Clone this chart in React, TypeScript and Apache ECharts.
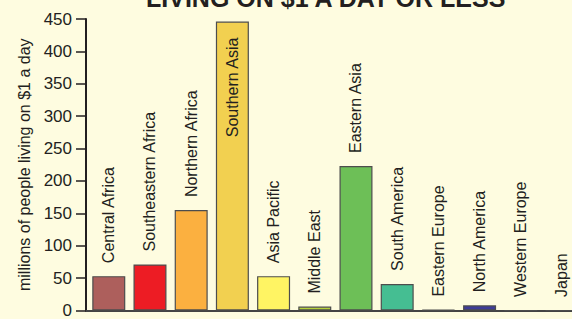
import React, { useEffect, useRef } from "react";
import * as echarts from "echarts";

const categories = [
  "Central Africa",
  "Southeastern Africa",
  "Northern Africa",
  "Southern Asia",
  "Asia Pacific",
  "Middle East",
  "Eastern Asia",
  "South America",
  "Eastern Europe",
  "North America",
  "Western Europe",
  "Japan",
];
const values = [53, 71, 155, 446, 53, 6, 223, 41, 1, 8, 0, 0];
const colors = [
  "#AD5F5C",
  "#ED1C24",
  "#FBB040",
  "#F2D050",
  "#FFF463",
  "#B6D13A",
  "#6DBF57",
  "#45BE92",
  "#3A4A8A",
  "#3E3C98",
  "#6A4A9A",
  "#8A4A9A",
];
const insideLabel = ["Southern Asia"];

const FONT = "'Liberation Sans Narrow', 'Liberation Sans', Arial, sans-serif";

export default function App() {
  const ref = useRef<HTMLDivElement>(null);
  useEffect(() => {
    if (!ref.current) return;
    const chart = echarts.init(ref.current, undefined, { renderer: "svg" });
    chart.setOption({
      animation: false,
      backgroundColor: "#FEFCE0",
      graphic: [
        {
          type: "text",
          left: 146,
          top: -15,
          style: {
            text: "LIVING ON $1 A DAY OR LESS",
            font: "bold 25px 'Liberation Sans', Arial, sans-serif",
            fill: "#231F20",
          },
        },
      ],
      grid: { left: 86, top: 19, right: 0, height: 297 },
      xAxis: {
        type: "value",
        min: -0.553,
        max: 11.243,
        axisLine: { show: true, onZero: false, lineStyle: { color: "#444", width: 2 } },
        axisTick: { show: false },
        axisLabel: { show: false },
        splitLine: { show: false },
      },
      yAxis: {
        type: "value",
        min: 0,
        max: 450,
        interval: 50,
        name: "millions of people living on $1 a day",
        nameLocation: "middle",
        nameGap: 47,
        nameTextStyle: { fontFamily: FONT, fontSize: 16, color: "#231F20" },
        axisLine: { show: true, onZero: false, lineStyle: { color: "#231F20", width: 2 } },
        axisTick: { show: true, length: 10, lineStyle: { color: "#231F20", width: 1.5 } },
        axisLabel: {
          fontFamily: FONT,
          fontSize: 17,
          color: "#231F20",
          margin: 14,
        },
        splitLine: { show: false },
      },
      series: [
        {
          type: "bar",
          barWidth: 33,
          data: values.map((v, i) => {
            const inside = insideLabel.includes(categories[i]);
            return {
              value: [i, v],
              itemStyle: { color: colors[i] },
              label: inside
                ? { position: "insideTop", align: "right", distance: 16 }
                : { position: "top", align: "left", distance: 13 },
            };
          }),
          itemStyle: { borderColor: "#4D4D4D", borderWidth: 1.2 },
          label: {
            show: true,
            rotate: 90,
            verticalAlign: "middle",
            fontFamily: FONT,
            fontSize: 16,
            color: "#231F20",
            formatter: (p: any) => categories[p.dataIndex],
          },
        },
      ],
    });
    return () => chart.dispose();
  }, []);
  return <div ref={ref} style={{ width: 572, height: 319, position: "absolute", left: 0, top: 0 }} />;
}
